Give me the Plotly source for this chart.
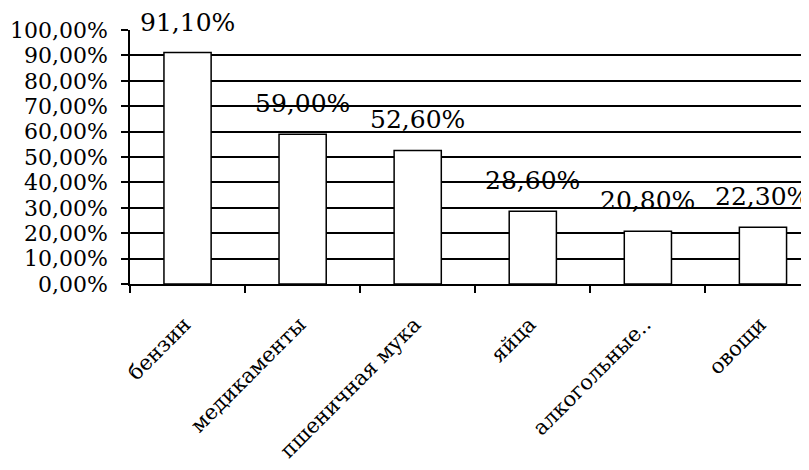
import plotly.graph_objects as go

categories = ["бензин", "медикаменты", "пшеничная мука", "яйца", "алкогольные..", "овощи"]
values = [91.10, 59.00, 52.60, 28.60, 20.80, 22.30]
value_labels = ["91,10%", "59,00%", "52,60%", "28,60%", "20,80%", "22,30%"]
y_ticks = [0, 10, 20, 30, 40, 50, 60, 70, 80, 90, 100]
y_tick_labels = ["0,00%", "10,00%", "20,00%", "30,00%", "40,00%", "50,00%",
                 "60,00%", "70,00%", "80,00%", "90,00%", "100,00%"]

SERIF = "DejaVu Serif"

fig = go.Figure()
fig.add_trace(go.Bar(
    x=categories, y=values,
    marker=dict(color="white", line=dict(color="black", width=1.5)),
    width=0.41,
    hoverinfo="skip",
))

for c, v, t in zip(categories, values, value_labels):
    fig.add_annotation(x=c, y=v, text=t, showarrow=False, yanchor="bottom",
                       yshift=14, font=dict(family=SERIF, size=25, color="black"))

fig.update_layout(
    width=801, height=462,
    margin=dict(l=122, r=0, t=22, b=186, autoexpand=False),
    paper_bgcolor="white", plot_bgcolor="white",
    showlegend=False,
    xaxis=dict(
        type="category", range=[-0.5, 5.4], automargin=False,
        showline=True, linecolor="black", linewidth=1.5,
        ticks="outside", ticklen=7, tickcolor="black", tickwidth=1.5,
        tickson="boundaries", showgrid=False,
        tickangle=-45, ticklabelstandoff=18, ticklabelshift=-3,
        tickfont=dict(family=SERIF, size=21, color="black"),
    ),
    yaxis=dict(
        range=[0, 100], tickvals=y_ticks, ticktext=y_tick_labels, automargin=False,
        showline=True, linecolor="black", linewidth=1.5,
        ticks="outside", ticklen=7, tickcolor="black", tickwidth=1.5,
        showgrid=True, gridcolor="black", gridwidth=1.5,
        zeroline=False, ticklabelstandoff=9,
        tickfont=dict(family=SERIF, size=22, color="black"),
    ),
)

fig.write_html("out.html")
